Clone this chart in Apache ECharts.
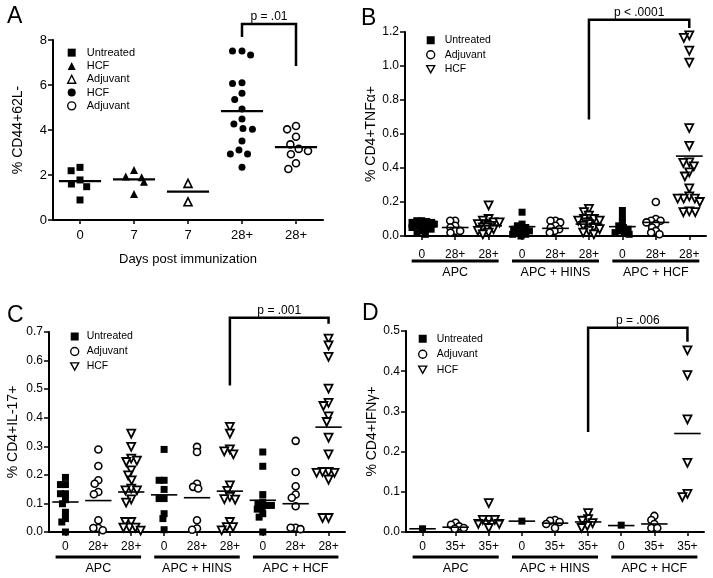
<!DOCTYPE html>
<html><head><meta charset="utf-8">
<script src="https://cdn.jsdelivr.net/npm/echarts@6/dist/echarts.min.js"></script>
<style>html,body{margin:0;padding:0;background:#fff}#c{width:713px;height:578px}</style>
</head><body><div id="c"></div><script>
// ---------- Panel A ----------
const catsA = ['0', '7', '7', '28+', '28+'];
const aUntreated = [2.34, 2.19, 1.78, 1.60, 1.48, 0.89];
const aHcfDay7 = [2.22, 1.93, 1.90, 1.70, 1.16];
const aAdjDay7 = [1.63, 0.81];
const aHcfDay28 = [7.51, 7.51, 7.33, 6.10, 6.07, 5.63, 5.36, 4.93, 4.49, 4.27, 4.07, 4.03, 3.51, 3.11, 2.93, 2.93, 2.34];
const aAdjDay28 = [4.18, 4.03, 3.70, 3.36, 3.16, 3.07, 2.92, 2.52, 2.27];
const aMedians = [1.73, 1.81, 1.26, 4.84, 3.24];
const aBracket = [3, 4, 8.71, 8.13, 6.84];
const aP = 'p = .01';

// ---------- Panels B-D shared ----------
const catsBC = ['0', '28+', '28+', '0', '28+', '28+', '0', '28+', '28+'];
const catsD = ['0', '35+', '35+', '0', '35+', '35+', '0', '35+', '35+'];
const groupLabels = ['APC', 'APC + HINS', 'APC + HCF'];

// Panel B (TNFa)
const bUntreated = [[0.09, 0.09, 0.085, 0.08, 0.08, 0.07, 0.07, 0.06, 0.06, 0.05, 0.05, 0.04, 0.03, 0.02, 0.01],
                    [0.14, 0.07, 0.06, 0.05, 0.04, 0.03, 0.03, 0.02, 0.01, 0.01, 0.0],
                    [0.15, 0.11, 0.08, 0.06, 0.05, 0.04, 0.03, 0.02, 0.02, 0.01]];
const bAdjuvant = [[0.09, 0.09, 0.06, 0.05, 0.03, 0.03, 0.02],
                   [0.09, 0.09, 0.08, 0.06, 0.05, 0.04, 0.03, 0.02],
                   [0.2, 0.1, 0.09, 0.09, 0.08, 0.07, 0.05, 0.03, 0.02, 0.01]];
const bHcf = [[0.18, 0.1, 0.09, 0.08, 0.08, 0.07, 0.07, 0.06, 0.06, 0.05, 0.05, 0.04, 0.03, 0.02, 0.01],
              [0.16, 0.14, 0.12, 0.1, 0.1, 0.09, 0.09, 0.08, 0.07, 0.06, 0.05, 0.04, 0.03, 0.02, 0.01],
              [1.18, 1.165, 1.09, 1.02, 0.635, 0.53, 0.433, 0.43, 0.41, 0.374, 0.35, 0.28, 0.233, 0.22, 0.22, 0.22, 0.2, 0.145, 0.14, 0.14]];
const bMedians = [0.055, 0.05, 0.06, 0.055, 0.045, 0.07, 0.055, 0.08, 0.47];
const bBracket = [5, 8, 1.272, 0.685, 1.224];
const bP = 'p < .0001';

// Panel C (IL-17)
const cUntreated = [[0.191, 0.166, 0.166, 0.134, 0.134, 0.113, 0.099, 0.069, 0.047, 0.035, 0.0],
                    [0.289, 0.181, 0.181, 0.149, 0.117, 0.117, 0.064, 0.047, 0.008],
                    [0.28, 0.23, 0.131, 0.105, 0.1, 0.093, 0.093, 0.084, 0.08, 0.064, 0.052, 0.0]];
const cAdjuvant = [[0.289, 0.231, 0.181, 0.169, 0.14, 0.132, 0.041, 0.014, 0.014, 0.006],
                   [0.298, 0.28, 0.169, 0.158, 0.152, 0.041, 0.012, 0.008],
                   [0.319, 0.21, 0.16, 0.131, 0.12, 0.09, 0.015, 0.015, 0.01]];
const cHcf = [[0.344, 0.298, 0.257, 0.25, 0.245, 0.216, 0.198, 0.181, 0.152, 0.146, 0.146, 0.114, 0.103, 0.035, 0.035, 0.015, 0.015, 0.015, 0.005],
              [0.368, 0.344, 0.289, 0.282, 0.272, 0.163, 0.144, 0.123, 0.115, 0.113, 0.035, 0.017, 0.017, 0.006],
              [0.677, 0.653, 0.613, 0.502, 0.452, 0.441, 0.405, 0.385, 0.33, 0.272, 0.21, 0.21, 0.207, 0.207, 0.183, 0.049, 0.049]];
const cMedians = [0.105, 0.11, 0.14, 0.13, 0.12, 0.143, 0.111, 0.099, 0.367];
const cBracket = [5, 8, 0.75, 0.513, 0.729];
const cP = 'p = .001';

// Panel D (IFNg)
const dUntreated = [[0.008], [0.027], [0.017]];
const dAdjuvant = [[0.023, 0.018, 0.014, 0.01, 0.008],
                   [0.03, 0.028, 0.025, 0.02, 0.01],
                   [0.04, 0.03, 0.02, 0.01, 0.01]];
const dHcf = [[0.072, 0.03, 0.03, 0.03, 0.02, 0.02, 0.01],
              [0.047, 0.032, 0.028, 0.022, 0.015, 0.01],
              [0.452, 0.39, 0.28, 0.172, 0.095, 0.087]];
const dMedians = [0.008, 0.012, 0.028, 0.027, 0.022, 0.025, 0.016, 0.02, 0.245];
const dBracket = [5, 8, 0.508, 0.249, 0.473];
const dP = 'p = .006';

// ---------- rendering ----------
const FONT = '"Liberation Sans", Arial, Helvetica, sans-serif';
const BLACK = '#000';
const DOWN_TRI = 'path://M0,0L10,0L5,9Z';

const SYM = {
  sq:   { symbol: 'rect', symbolSize: 7, itemStyle: { color: BLACK, opacity: 1 } },
  tri:  { symbol: 'triangle', symbolSize: 8, itemStyle: { color: BLACK, opacity: 1 } },
  otri: { symbol: 'triangle', symbolSize: 8, itemStyle: { color: '#fff', borderColor: BLACK, borderWidth: 1.6, opacity: 1 } },
  circ: { symbol: 'circle', symbolSize: 7, itemStyle: { color: BLACK, opacity: 1 } },
  ocirc:{ symbol: 'circle', symbolSize: 7, itemStyle: { color: '#fff', borderColor: BLACK, borderWidth: 1.6, opacity: 1 } },
  dtri: { symbol: 'triangle', symbolRotate: 180, symbolSize: 8, itemStyle: { color: '#fff', borderColor: BLACK, borderWidth: 1.8, opacity: 1 } }
};

function scatter(idx, name, data, sym) {
  return Object.assign({
    type: 'scatter', name: name, xAxisIndex: idx, yAxisIndex: idx,
    data: data, z: 4, clip: false,
    emphasis: { disabled: true }
  }, JSON.parse(JSON.stringify(sym)));
}
function groupedData(groups, offset) {
  const out = [];
  groups.forEach((vals, g) => vals.forEach(v => out.push([g * 3 + offset, v])));
  return out;
}
function medianSeries(idx, medians, halfW, lw) {
  return {
    type: 'custom', xAxisIndex: idx, yAxisIndex: idx, silent: true, z: 5,
    data: medians.map((m, i) => [i, m]),
    renderItem(params, api) {
      const c = api.coord([api.value(0), api.value(1)]);
      const bw = api.size([1, 0])[0];
      return { type: 'line', shape: { x1: c[0] - bw * halfW, y1: c[1], x2: c[0] + bw * halfW, y2: c[1] },
               style: { stroke: BLACK, lineWidth: lw } };
    }
  };
}
function bracketSeries(idx, br, label) {
  return {
    type: 'custom', xAxisIndex: idx, yAxisIndex: idx, silent: true, z: 6,
    data: [br],
    renderItem(params, api) {
      const tl = api.coord([api.value(0), api.value(2)]);
      const tr = api.coord([api.value(1), api.value(2)]);
      const bl = api.coord([api.value(0), api.value(3)]);
      const brr = api.coord([api.value(1), api.value(4)]);
      return { type: 'group', children: [
        { type: 'polyline', shape: { points: [bl, tl, tr, brr] }, style: { stroke: BLACK, lineWidth: 2.5, fill: 'none' } },
        { type: 'text', style: { text: label, x: (tl[0] + tr[0]) / 2, y: tl[1] - 1, align: 'center', verticalAlign: 'bottom',
          fontSize: 12, fontFamily: FONT, fill: BLACK } }
      ] };
    }
  };
}
function groupSeries(idx, labels, barOff, textOff) {
  return {
    type: 'custom', xAxisIndex: idx, yAxisIndex: idx, silent: true, z: 6,
    data: labels.map((l, g) => [g * 3 + 1, 0]),
    renderItem(params, api) {
      const c = api.coord([api.value(0), 0]);
      const bw = api.size([1, 0])[0];
      const x1 = c[0] - 1.3 * bw, x2 = c[0] + 1.3 * bw;
      return { type: 'group', children: [
        { type: 'line', shape: { x1: x1, y1: c[1] + barOff, x2: x2, y2: c[1] + barOff }, style: { stroke: BLACK, lineWidth: 3 } },
        { type: 'text', style: { text: labels[params.dataIndex], x: c[0], y: c[1] + textOff, align: 'center', verticalAlign: 'middle',
          fontSize: 12.5, fontFamily: FONT, fill: BLACK } }
      ] };
    }
  };
}

const grids = [
  { left: 53, top: 40, width: 270, height: 180 },
  { left: 405, top: 32, width: 301, height: 204 },
  { left: 49, top: 332, width: 296, height: 200 },
  { left: 406, top: 331, width: 298, height: 201 }
].map(g => Object.assign({ outerBoundsMode: 'none', containLabel: false }, g));

function xAxis(idx, cats, labelMargin, fs, jitter, margin, name) {
  return {
    type: 'category', gridIndex: idx, data: cats, boundaryGap: true,
    jitter: jitter, jitterOverlap: false, jitterMargin: margin,
    axisLine: { show: true, onZero: false, lineStyle: { color: BLACK, width: 2 } },
    axisTick: { show: true, alignWithLabel: true, length: 4, lineStyle: { color: BLACK, width: 1.5 } },
    axisLabel: { color: BLACK, fontSize: fs, fontFamily: FONT, margin: labelMargin, interval: 0 },
    splitLine: { show: false },
    name: name || '', nameLocation: 'middle', nameGap: 33,
    nameTextStyle: { color: BLACK, fontSize: 13, fontFamily: FONT }
  };
}
function yAxis(idx, max, interval, dec, fs, name, nameGap) {
  return {
    type: 'value', gridIndex: idx, min: 0, max: max, interval: interval,
    axisLine: { show: true, lineStyle: { color: BLACK, width: 2 } },
    axisTick: { show: true, length: 5, lineStyle: { color: BLACK, width: 1.5 } },
    axisLabel: { color: BLACK, fontSize: fs, fontFamily: FONT, margin: 6,
      formatter: v => v.toFixed(dec) },
    splitLine: { show: false },
    name: name, nameLocation: 'middle', nameGap: nameGap, nameRotate: 90,
    nameTextStyle: { color: BLACK, fontSize: 14, fontFamily: FONT }
  };
}
const open = { color: '#fff', borderColor: BLACK, borderWidth: 1.4 };
const filled = { color: BLACK, borderWidth: 0 };
function legend(items, left, top, lh, fs, gapText) {
  return {
    orient: 'vertical', left: left, top: top, padding: 0, itemGap: 0,
    itemWidth: 8, itemHeight: 8, selectedMode: false, data: items,
    formatter: n => n.trim(),
    textStyle: { color: BLACK, fontSize: fs, fontFamily: FONT, lineHeight: lh, padding: [0, 0, 0, gapText] }
  };
}
const legendA = [
  { name: 'Untreated', icon: 'rect', itemStyle: filled },
  { name: 'HCF', icon: 'triangle', itemStyle: filled },
  { name: 'Adjuvant', icon: 'triangle', itemStyle: open },
  { name: 'HCF ', icon: 'circle', itemStyle: filled },
  { name: 'Adjuvant ', icon: 'circle', itemStyle: open }
];
const legendBCD = [
  { name: 'Untreated', icon: 'rect', itemStyle: filled },
  { name: 'Adjuvant ', icon: 'circle', itemStyle: open },
  { name: 'HCF  ', icon: DOWN_TRI, itemStyle: open }
];

const series = [
  // A
  scatter(0, 'Untreated', aUntreated.map(v => [0, v]), SYM.sq),
  scatter(0, 'HCF', aHcfDay7.map(v => [1, v]), SYM.tri),
  scatter(0, 'Adjuvant', aAdjDay7.map(v => [2, v]), SYM.otri),
  scatter(0, 'HCF ', aHcfDay28.map(v => [3, v]), SYM.circ),
  scatter(0, 'Adjuvant ', aAdjDay28.map(v => [4, v]), SYM.ocirc),
  medianSeries(0, aMedians, 0.39, 2.2),
  bracketSeries(0, aBracket, aP)
];
const panels = [
  [1, bUntreated, bAdjuvant, bHcf, bMedians, bBracket, bP],
  [2, cUntreated, cAdjuvant, cHcf, cMedians, cBracket, cP],
  [3, dUntreated, dAdjuvant, dHcf, dMedians, dBracket, dP]
];
panels.forEach(([idx, u, a, h, med, br, p]) => {
  series.push(scatter(idx, 'Untreated', groupedData(u, 0), SYM.sq));
  series.push(scatter(idx, 'Adjuvant ', groupedData(a, 1), SYM.ocirc));
  series.push(scatter(idx, 'HCF  ', groupedData(h, 2), SYM.dtri));
  series.push(medianSeries(idx, med, 0.4, 1.6));
  series.push(bracketSeries(idx, br, p));
  series.push(groupSeries(idx, groupLabels, 25, 37));
});

const titleStyle = { fontSize: 23, fontWeight: 'normal', color: BLACK, fontFamily: FONT };
const option = {
  animation: false,
  backgroundColor: '#fff',
  title: [
    { text: 'A', left: 7, top: 5, padding: 0, textStyle: titleStyle },
    { text: 'B', left: 361, top: 7, padding: 0, textStyle: titleStyle },
    { text: 'C', left: 7, top: 304, padding: 0, textStyle: titleStyle },
    { text: 'D', left: 362, top: 302, padding: 0, textStyle: titleStyle }
  ],
  legend: [
    legend(legendA, 67, 46, 13.3, 11, 6),
    legend(legendBCD, 426, 33, 14.5, 10.5, 5),
    legend(legendBCD, 70, 329, 15, 10.5, 3),
    legend(legendBCD, 418, 331, 15.5, 10.5, 5)
  ],
  grid: grids,
  xAxis: [
    xAxis(0, catsA, 9, 13, 30, 2.5, 'Days post immunization'),
    xAxis(1, catsBC, 13, 12, 26, -2),
    xAxis(2, catsBC, 9, 12, 26, -2),
    xAxis(3, catsD, 9, 12, 26, -2)
  ],
  yAxis: [
    yAxis(0, 8, 2, 0, 13, '% CD44+62L-', 28),
    yAxis(1, 1.2, 0.2, 1, 12, '% CD4+TNFα+', 26),
    yAxis(2, 0.7, 0.1, 1, 12, '% CD4+IL-17+', 29),
    yAxis(3, 0.5, 0.1, 1, 12, '% CD4+IFNγ+', 26)
  ],
  series: series
};
const chart = echarts.init(document.getElementById('c'), null, { renderer: 'canvas' });
chart.setOption(option);
</script></body></html>
